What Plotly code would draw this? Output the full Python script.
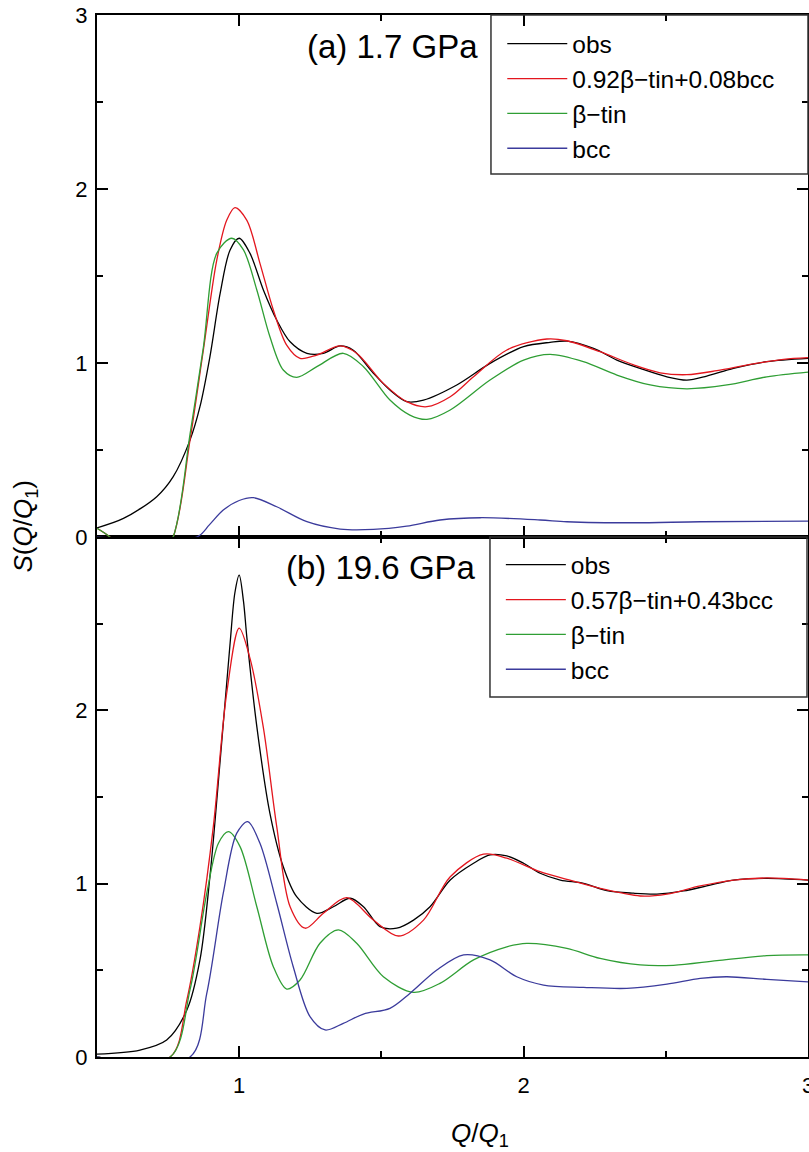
import plotly.graph_objects as go

# ---------------- data ----------------
# (a) 1.7 GPa
a_obs_x = [0.5, 0.593, 0.71, 0.768, 0.827, 0.862, 0.897, 0.933, 0.968, 1.0, 1.038, 1.085, 1.132, 1.179,
           1.238, 1.296, 1.355, 1.40, 1.472, 1.53, 1.589, 1.648, 1.765, 1.882, 2.0, 2.093, 2.152, 2.246,
           2.328, 2.41, 2.504, 2.574, 2.644, 2.738, 2.855, 3.0]
a_obs_y = [0.053, 0.107, 0.232, 0.347, 0.557, 0.749, 1.036, 1.40, 1.65, 1.717, 1.63, 1.42, 1.247, 1.122,
           1.056, 1.056, 1.098, 1.075, 0.941, 0.845, 0.778, 0.787, 0.874, 0.998, 1.094, 1.119, 1.126, 1.084,
           1.017, 0.969, 0.921, 0.902, 0.925, 0.969, 1.008, 1.027]

a_fit_x = [0.5, 0.545, 0.6, 0.68, 0.768, 0.827, 0.874, 0.921, 0.956, 0.985, 1.027, 1.073, 1.12, 1.167,
           1.214, 1.273, 1.355, 1.413, 1.507, 1.589, 1.66, 1.742, 1.824, 1.941, 2.082, 2.152, 2.269, 2.387,
           2.48, 2.574, 2.68, 2.797, 2.914, 3.0]
a_fit_y = [0.05, 0.0, -0.1, -0.25, 0.0, 0.557, 1.075, 1.59, 1.82, 1.893, 1.82, 1.573, 1.305, 1.103,
           1.027, 1.046, 1.098, 1.056, 0.883, 0.778, 0.749, 0.806, 0.921, 1.075, 1.138, 1.128, 1.065, 0.989,
           0.944, 0.933, 0.956, 0.992, 1.021, 1.031]

a_bt_x = [0.5, 0.545, 0.6, 0.68, 0.768, 0.827, 0.874, 0.921, 0.974, 1.015, 1.062, 1.108, 1.155, 1.202,
          1.273, 1.366, 1.437, 1.53, 1.60, 1.66, 1.742, 1.882, 2.0, 2.093, 2.21, 2.328, 2.445, 2.574,
          2.715, 2.855, 3.0]
a_bt_y = [0.05, 0.0, -0.1, -0.25, 0.0, 0.59, 1.09, 1.63, 1.717, 1.65, 1.42, 1.151, 0.96, 0.918,
          0.979, 1.056, 0.979, 0.787, 0.701, 0.676, 0.73, 0.902, 1.017, 1.05, 1.008, 0.931, 0.874, 0.852,
          0.874, 0.921, 0.948]

a_bcc_x = [0.5, 0.851, 0.895, 0.944, 1.0, 1.05, 1.132, 1.238, 1.355, 1.472, 1.589, 1.706, 1.847, 2.058,
           2.152, 2.387, 2.621, 3.0]
a_bcc_y = [0.0, 0.0, 0.07, 0.155, 0.21, 0.226, 0.174, 0.088, 0.046, 0.044, 0.063, 0.098, 0.111, 0.098,
           0.088, 0.082, 0.088, 0.092]

# (b) 19.6 GPa
b_obs_x = [0.5, 0.651, 0.745, 0.816, 0.862, 0.897, 0.933, 0.968, 0.985, 1.0, 1.015, 1.027, 1.062, 1.108,
           1.155, 1.202, 1.273, 1.331, 1.39, 1.437, 1.495, 1.554, 1.613, 1.671, 1.742, 1.824, 1.882,
           1.941, 2.0, 2.058, 2.129, 2.211, 2.293, 2.386, 2.469, 2.562, 2.644, 2.738, 2.855, 3.0]
b_obs_y = [0.016, 0.04, 0.098, 0.271, 0.56, 1.04, 1.71, 2.387, 2.68, 2.78, 2.63, 2.42, 1.906, 1.406,
           1.098, 0.925, 0.829, 0.867, 0.916, 0.867, 0.752, 0.743, 0.79, 0.867, 1.021, 1.118, 1.166,
           1.16, 1.118, 1.06, 1.021, 1.002, 0.96, 0.945, 0.94, 0.958, 0.987, 1.021, 1.031, 1.021]

b_fit_x = [0.5, 0.757, 0.816, 0.862, 0.909, 0.956, 1.0, 1.038, 1.085, 1.132, 1.179, 1.232, 1.296,
           1.378, 1.472, 1.56, 1.648, 1.742, 1.859, 1.941, 2.058, 2.152, 2.269, 2.41, 2.504, 2.621,
           2.738, 2.855, 3.0]
b_fit_y = [0.0, 0.0, 0.33, 0.752, 1.329, 2.099, 2.474, 2.30, 1.90, 1.329, 0.867, 0.743, 0.829,
           0.919, 0.79, 0.698, 0.79, 1.04, 1.17, 1.147, 1.069, 1.025, 0.973, 0.929, 0.94, 0.987,
           1.021, 1.033, 1.021]

b_bt_x = [0.5, 0.757, 0.827, 0.886, 0.927, 0.962, 1.003, 1.062, 1.12, 1.167, 1.214, 1.284, 1.349,
          1.413, 1.507, 1.613, 1.706, 1.824, 1.941, 2.011, 2.152, 2.269, 2.41, 2.527, 2.68, 2.855, 3.0]
b_bt_y = [0.0, 0.0, 0.387, 0.945, 1.233, 1.30, 1.214, 0.867, 0.521, 0.392, 0.444, 0.656, 0.733,
          0.656, 0.463, 0.373, 0.425, 0.56, 0.636, 0.656, 0.627, 0.569, 0.531, 0.529, 0.556, 0.585, 0.589]

b_bcc_x = [0.5, 0.827, 0.886, 0.944, 0.991, 1.03, 1.073, 1.132, 1.19, 1.249, 1.302, 1.366, 1.437,
           1.53, 1.60, 1.695, 1.789, 1.882, 1.976, 2.07, 2.211, 2.363, 2.504, 2.621, 2.715, 2.855, 3.0]
b_bcc_y = [0.0, 0.0, 0.367, 0.945, 1.29, 1.358, 1.233, 0.887, 0.521, 0.233, 0.156, 0.194, 0.248,
           0.281, 0.367, 0.502, 0.589, 0.56, 0.463, 0.415, 0.402, 0.396, 0.421, 0.454, 0.463, 0.448, 0.434]

names_a = ["obs", "0.92\u03b2\u2212tin+0.08bcc", "\u03b2\u2212tin", "bcc"]
names_b = ["obs", "0.57\u03b2\u2212tin+0.43bcc", "\u03b2\u2212tin", "bcc"]
colors = ["#000000", "#e3161e", "#2f9e34", "#3b3b9c"]
panel_labels = ["(a) 1.7 GPa", "(b) 19.6 GPa"]
x_ticks = [1, 2, 3]
y_ticks_top = [0, 1, 2, 3]
y_ticks_bottom = [0, 1, 2]

FONT = "Liberation Sans, Arial, sans-serif"

fig = go.Figure()

series_a = [(a_obs_x, a_obs_y), (a_fit_x, a_fit_y), (a_bt_x, a_bt_y), (a_bcc_x, a_bcc_y)]
series_b = [(b_obs_x, b_obs_y), (b_fit_x, b_fit_y), (b_bt_x, b_bt_y), (b_bcc_x, b_bcc_y)]

for i, (xs, ys) in enumerate(series_a):
    fig.add_trace(go.Scatter(x=xs, y=ys, mode="lines", name=names_a[i], xaxis="x2", yaxis="y2",
                             line=dict(color=colors[i], width=1.3, shape="spline", smoothing=0.9),
                             legend="legend", legendgroup="a%d" % i))
for i, (xs, ys) in enumerate(series_b):
    fig.add_trace(go.Scatter(x=xs, y=ys, mode="lines", name=names_b[i], xaxis="x", yaxis="y",
                             line=dict(color=colors[i], width=1.3, shape="spline", smoothing=0.9),
                             legend="legend2", legendgroup="b%d" % i))

axis_common = dict(showline=True, linecolor="black", linewidth=2, mirror="allticks",
                   ticks="inside", ticklen=11, tickwidth=2, tickcolor="black",
                   showgrid=False, zeroline=False, ticklabeloverflow="allow",
                   tickfont=dict(family=FONT, size=22, color="black"))
minor_common = dict(ticks="inside", ticklen=6, tickwidth=2, tickcolor="black")
split = 0.499

fig.update_layout(
    width=809, height=1152,
    margin=dict(l=97, r=1, t=15, b=95, autoexpand=False),
    paper_bgcolor="white", plot_bgcolor="white",
    font=dict(family=FONT, color="black"),
    xaxis=dict(domain=[0, 1], anchor="y", range=[0.5, 3], tickvals=x_ticks,
               minor=dict(tickvals=[1.5, 2.5], **minor_common),
               ticklabelstandoff=8, **axis_common),
    xaxis2=dict(domain=[0, 1], anchor="y2", matches="x", range=[0.5, 3], tickvals=x_ticks,
                showticklabels=False,
                minor=dict(tickvals=[1.5, 2.5], **minor_common),
                **axis_common),
    yaxis=dict(domain=[0, split], anchor="x", range=[0, 3], tickvals=y_ticks_bottom,
               minor=dict(tickvals=[0.5, 1.5, 2.5], **minor_common),
               ticklabelstandoff=3, **axis_common),
    yaxis2=dict(domain=[split, 1], anchor="x2", range=[0, 3], tickvals=y_ticks_top,
                minor=dict(tickvals=[0.5, 1.5, 2.5], **minor_common),
                ticklabelstandoff=3, **axis_common),
    legend=dict(x=0.57, y=0.994, xanchor="left", yanchor="top", bgcolor="rgba(0,0,0,0)",
                borderwidth=0, font=dict(family=FONT, size=24.5, color="black"),
                itemwidth=60, tracegroupgap=0, traceorder="grouped"),
    legend2=dict(x=0.568, y=split - 0.005, xanchor="left", yanchor="top", bgcolor="rgba(0,0,0,0)",
                 borderwidth=0, font=dict(family=FONT, size=24.5, color="black"),
                 itemwidth=60, tracegroupgap=0, traceorder="grouped"),
    showlegend=True,
)

# legend frames
fig.add_shape(type="rect", xref="paper", yref="paper", x0=0.5541, x1=1.0, y0=0.8474, y1=1.0,
              line=dict(color="#333333", width=1.5), layer="above")
fig.add_shape(type="rect", xref="paper", yref="paper", x0=0.5527, x1=0.9986, y0=0.3455, y1=split,
              line=dict(color="#333333", width=1.5), layer="above")

# panel labels
fig.add_annotation(text=panel_labels[0], xref="paper", yref="paper", x=0.5387, y=0.9696,
                   xanchor="right", yanchor="middle", showarrow=False,
                   font=dict(family=FONT, size=33, color="black"))
fig.add_annotation(text=panel_labels[1], xref="paper", yref="paper", x=0.5359, y=0.4693,
                   xanchor="right", yanchor="middle", showarrow=False,
                   font=dict(family=FONT, size=33, color="black"))

# axis titles
fig.add_annotation(text="<i>S</i>(<i>Q</i>/<i>Q</i><sub>1</sub>)", xref="paper", yref="paper",
                   x=-0.1013, y=0.51, xanchor="center", yanchor="middle", textangle=-90,
                   showarrow=False, font=dict(family=FONT, size=26, color="black"))
fig.add_annotation(text="<i>Q</i>/<i>Q</i><sub>1</sub>", xref="paper", yref="paper",
                   x=0.539, y=-0.0745, xanchor="center", yanchor="middle",
                   showarrow=False, font=dict(family=FONT, size=26, color="black"))

fig.write_html("out.html")
